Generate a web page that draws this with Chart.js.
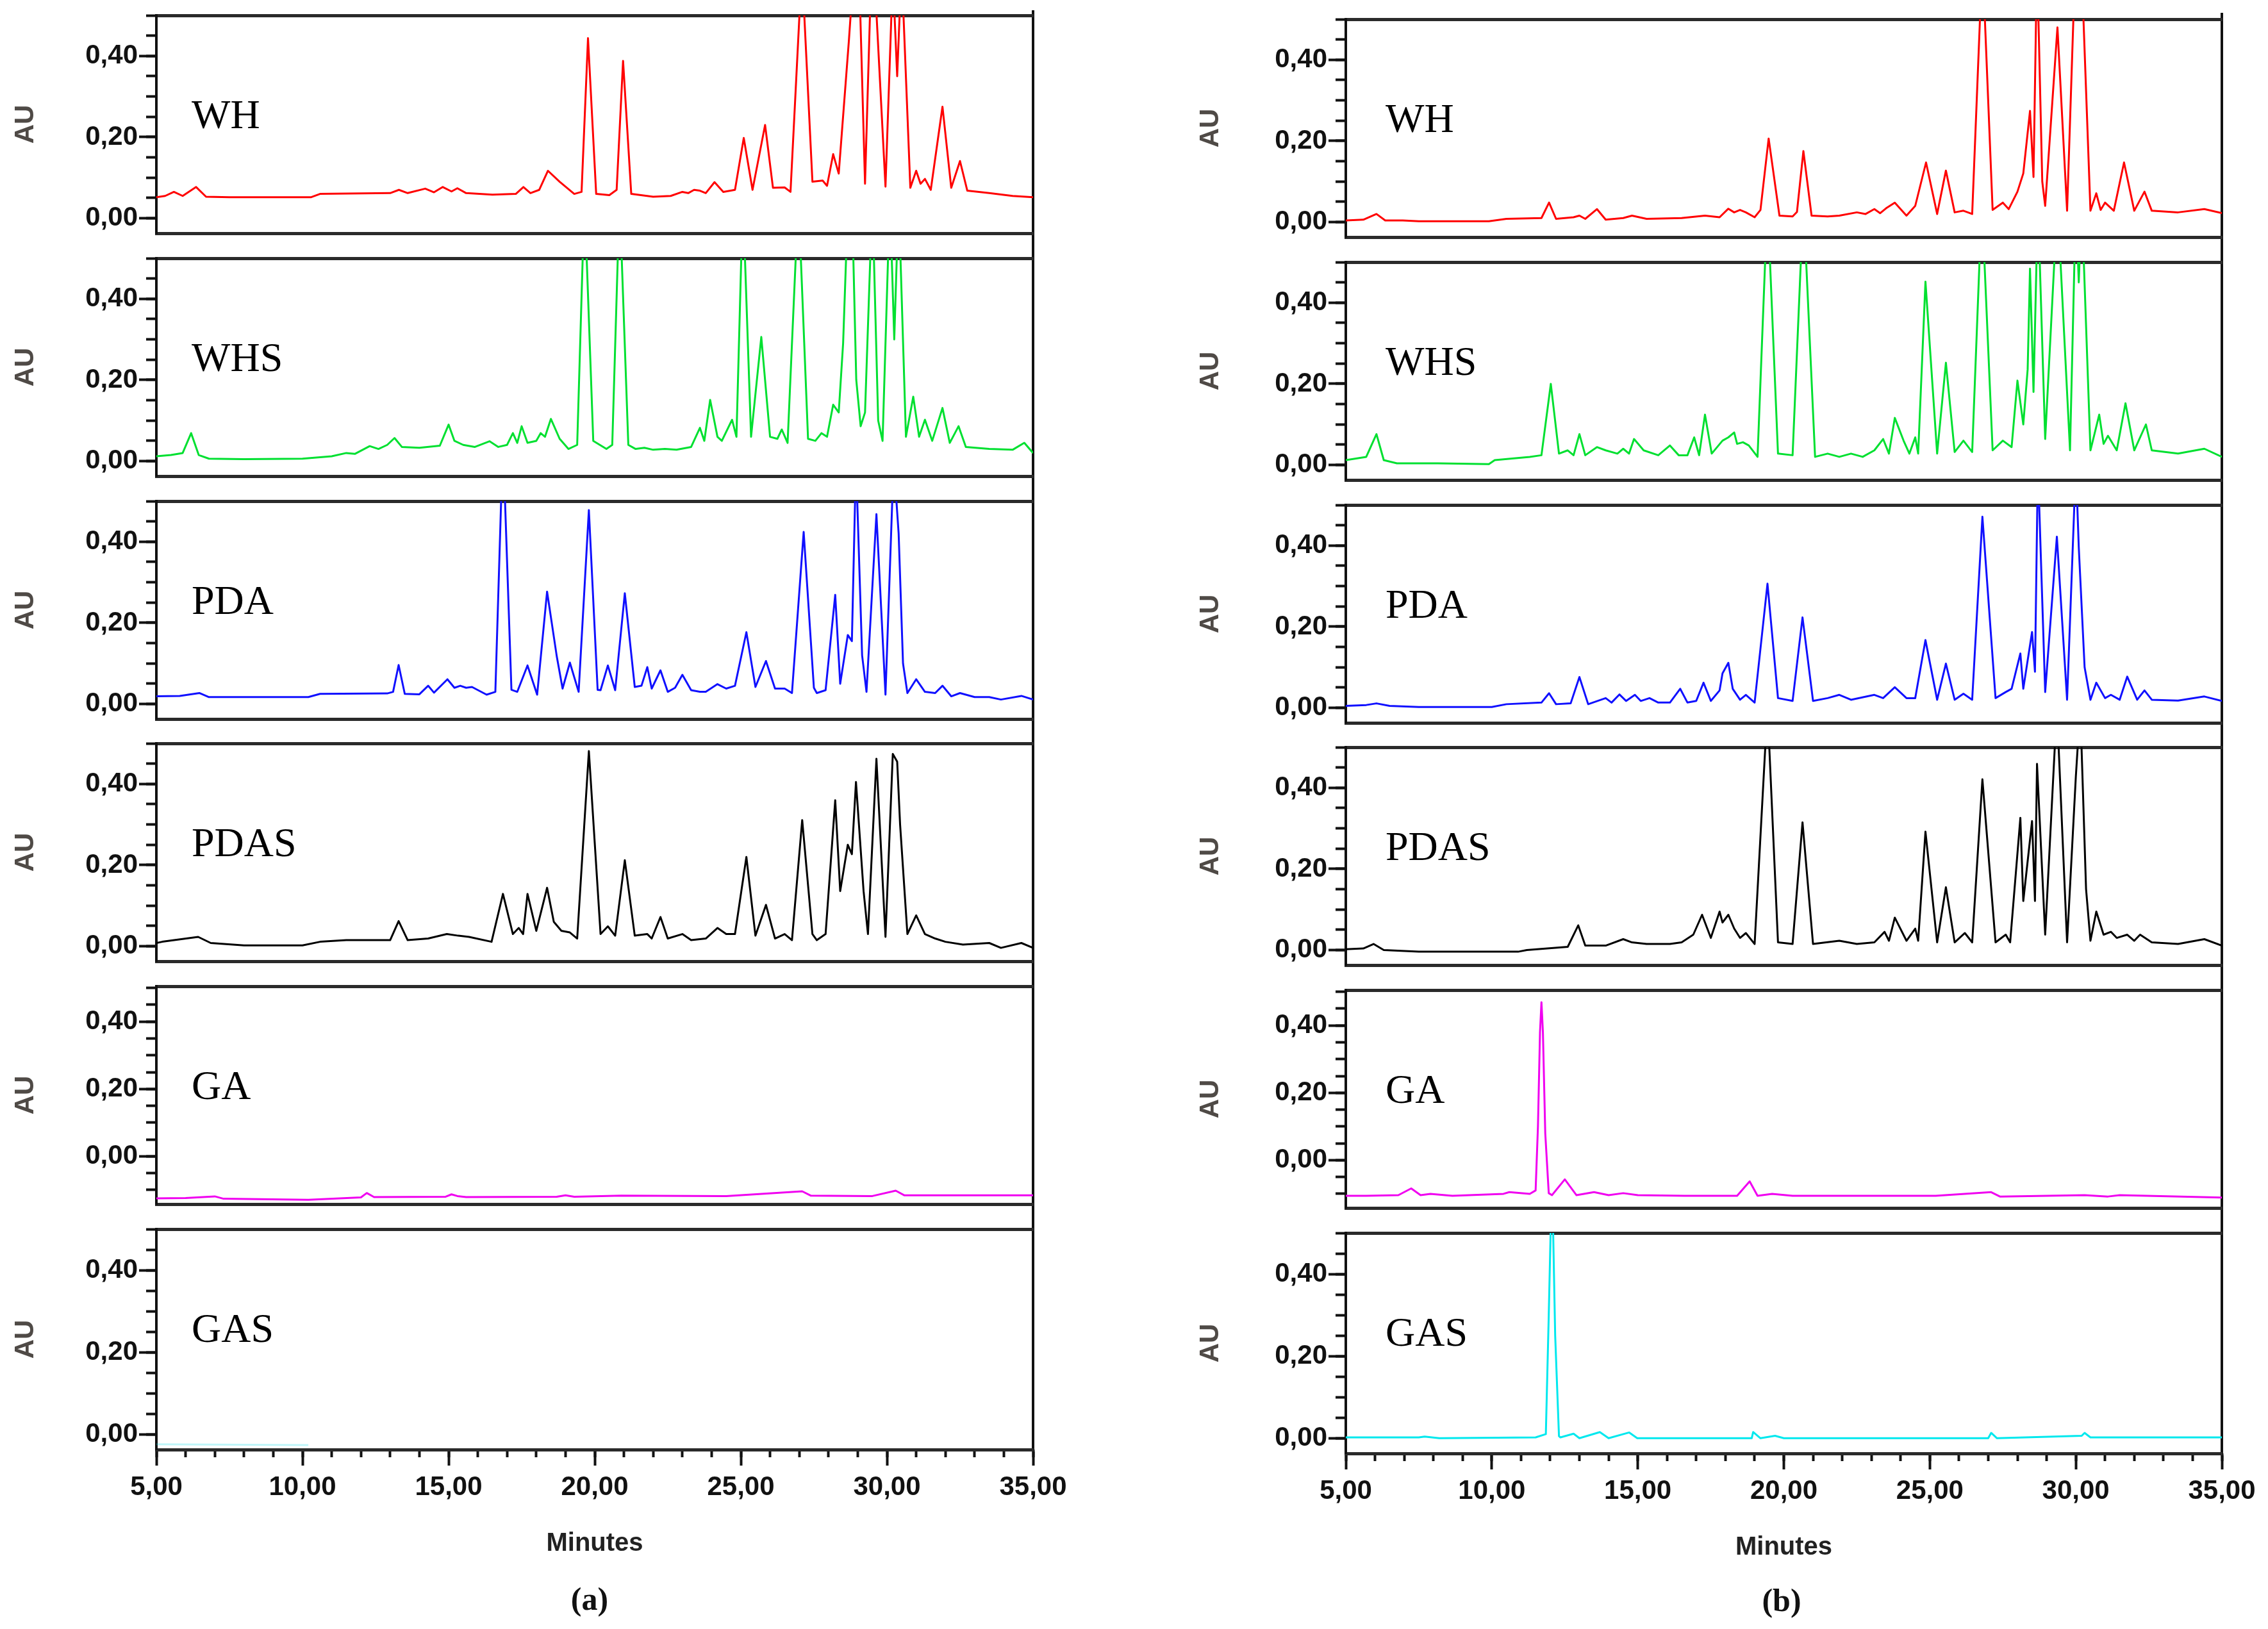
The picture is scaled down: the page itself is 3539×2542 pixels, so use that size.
<!DOCTYPE html>
<html>
<head>
<meta charset="utf-8">
<script src="https://cdn.jsdelivr.net/npm/chart.js@4.4.1/dist/chart.umd.min.js"></script>
<style>
  body { margin: 0; background: #fff; width: 3539px; height: 2542px; position: relative; overflow: hidden; }
  canvas { position: absolute; }
  .frame { position: absolute; width: 4px; background: #111; }
  .cap { position: absolute; font: bold 50px "Liberation Serif", serif; color: #111; transform: translate(-50%, -50%); line-height: 1; }
</style>
</head>
<body>
<div class="frame" style="left:1610px; top:16px; height:2248px;"></div>
<div class="frame" style="left:3465px; top:20px; height:2250px;"></div>
<div class="cap" style="left:920px; top:2495px;">(a)</div>
<div class="cap" style="left:2780px; top:2497px;">(b)</div>
<script>
// chromatograms, [minutes, AU]
const WH_a = [[5.0,0.052],[5.3,0.055],[5.6,0.065],[5.9,0.055],[6.36,0.077],[6.7,0.053],[7.5,0.052],[10.3,0.052],[10.6,0.06],[13.0,0.062],[13.3,0.07],[13.6,0.062],[14.2,0.073],[14.5,0.064],[14.8,0.077],[15.1,0.066],[15.3,0.074],[15.6,0.062],[16.5,0.058],[17.3,0.06],[17.56,0.077],[17.8,0.062],[18.1,0.07],[18.4,0.117],[18.8,0.09],[19.3,0.06],[19.55,0.065],[19.77,0.444],[20.05,0.06],[20.5,0.057],[20.75,0.07],[20.97,0.388],[21.25,0.06],[22.0,0.053],[22.6,0.055],[23.0,0.065],[23.2,0.062],[23.4,0.07],[23.6,0.068],[23.8,0.062],[24.1,0.089],[24.4,0.065],[24.8,0.07],[25.1,0.198],[25.4,0.07],[25.83,0.23],[26.1,0.075],[26.5,0.076],[26.7,0.065],[27.09,0.62],[27.45,0.09],[27.8,0.093],[27.95,0.08],[28.16,0.158],[28.35,0.11],[28.7,0.44],[28.9,0.65],[29.05,0.6],[29.25,0.085],[29.5,0.7],[29.95,0.078],[30.2,0.6],[30.35,0.35],[30.5,0.62],[30.8,0.075],[31.0,0.117],[31.15,0.085],[31.3,0.097],[31.5,0.07],[31.9,0.275],[32.2,0.075],[32.5,0.141],[32.75,0.068],[33.5,0.062],[34.3,0.055],[35.0,0.052]];
const WHS_a = [[5.0,0.012],[5.5,0.015],[5.9,0.02],[6.19,0.069],[6.45,0.015],[6.8,0.006],[8.0,0.005],[10.0,0.006],[11.0,0.012],[11.5,0.02],[11.8,0.018],[12.3,0.037],[12.6,0.03],[12.9,0.04],[13.15,0.057],[13.4,0.035],[14.0,0.033],[14.7,0.038],[15.0,0.09],[15.2,0.05],[15.5,0.04],[15.9,0.035],[16.4,0.049],[16.7,0.035],[17.0,0.04],[17.2,0.069],[17.35,0.045],[17.5,0.086],[17.7,0.045],[18.0,0.05],[18.15,0.069],[18.3,0.06],[18.5,0.104],[18.8,0.055],[19.1,0.03],[19.4,0.04],[19.65,0.65],[19.95,0.05],[20.4,0.03],[20.6,0.04],[20.85,0.65],[21.15,0.04],[21.4,0.03],[21.7,0.033],[22.0,0.028],[22.4,0.03],[22.8,0.028],[23.3,0.035],[23.6,0.082],[23.75,0.05],[23.95,0.151],[24.2,0.06],[24.35,0.05],[24.7,0.102],[24.85,0.06],[25.07,0.65],[25.35,0.06],[25.7,0.306],[26.0,0.06],[26.25,0.055],[26.4,0.078],[26.6,0.045],[26.97,0.65],[27.3,0.055],[27.55,0.05],[27.76,0.069],[27.95,0.06],[28.16,0.139],[28.35,0.12],[28.5,0.29],[28.65,0.6],[28.8,0.65],[28.95,0.2],[29.1,0.086],[29.25,0.12],[29.5,0.65],[29.7,0.1],[29.85,0.05],[30.1,0.65],[30.25,0.3],[30.4,0.65],[30.65,0.06],[30.9,0.159],[31.1,0.06],[31.3,0.102],[31.55,0.05],[31.9,0.131],[32.15,0.045],[32.45,0.086],[32.7,0.035],[33.5,0.03],[34.3,0.028],[34.7,0.045],[35.0,0.02]];
const PDA_a = [[5.0,0.019],[5.8,0.02],[6.47,0.027],[6.8,0.017],[10.2,0.017],[10.6,0.025],[12.9,0.026],[13.1,0.03],[13.29,0.096],[13.5,0.025],[14.0,0.024],[14.3,0.045],[14.5,0.028],[14.96,0.061],[15.2,0.04],[15.4,0.045],[15.6,0.04],[15.8,0.042],[16.3,0.023],[16.6,0.03],[16.86,0.65],[17.15,0.035],[17.35,0.03],[17.7,0.095],[18.03,0.023],[18.37,0.277],[18.7,0.118],[18.9,0.038],[19.15,0.102],[19.45,0.03],[19.8,0.478],[20.1,0.035],[20.2,0.034],[20.45,0.095],[20.7,0.034],[21.03,0.273],[21.37,0.042],[21.6,0.045],[21.8,0.091],[21.95,0.038],[22.25,0.083],[22.5,0.03],[22.75,0.04],[23.0,0.072],[23.3,0.034],[23.6,0.03],[23.8,0.03],[24.2,0.049],[24.5,0.038],[24.8,0.045],[25.19,0.177],[25.5,0.042],[25.86,0.106],[26.17,0.038],[26.5,0.038],[26.75,0.027],[27.15,0.424],[27.5,0.04],[27.6,0.027],[27.9,0.034],[28.23,0.269],[28.4,0.05],[28.66,0.17],[28.8,0.155],[28.94,0.6],[29.15,0.12],[29.3,0.03],[29.64,0.468],[29.95,0.023],[30.23,0.6],[30.4,0.42],[30.55,0.1],[30.7,0.027],[31.0,0.061],[31.3,0.03],[31.65,0.027],[31.9,0.045],[32.2,0.019],[32.5,0.027],[33.0,0.017],[33.5,0.017],[33.9,0.011],[34.6,0.02],[35.0,0.011]];
const PDAS_a = [[5.0,0.008],[5.2,0.011],[6.43,0.023],[6.86,0.008],[8.0,0.002],[10.0,0.002],[10.6,0.011],[11.5,0.015],[13.0,0.015],[13.29,0.062],[13.6,0.015],[14.3,0.019],[14.94,0.03],[15.33,0.026],[15.7,0.023],[16.47,0.011],[16.86,0.129],[17.2,0.03],[17.4,0.045],[17.55,0.03],[17.7,0.129],[18.0,0.038],[18.37,0.144],[18.6,0.06],[18.86,0.038],[19.15,0.034],[19.4,0.019],[19.8,0.481],[20.2,0.03],[20.45,0.049],[20.7,0.026],[21.03,0.212],[21.37,0.026],[21.8,0.03],[21.95,0.019],[22.25,0.072],[22.5,0.019],[23.0,0.03],[23.3,0.015],[23.8,0.019],[24.2,0.045],[24.5,0.03],[24.8,0.03],[25.19,0.22],[25.5,0.026],[25.86,0.102],[26.17,0.019],[26.5,0.03],[26.75,0.015],[27.1,0.311],[27.45,0.03],[27.6,0.015],[27.9,0.03],[28.23,0.36],[28.4,0.136],[28.66,0.25],[28.8,0.227],[28.94,0.405],[29.2,0.136],[29.35,0.03],[29.64,0.462],[29.95,0.023],[30.2,0.474],[30.35,0.455],[30.45,0.3],[30.7,0.03],[31.0,0.076],[31.3,0.03],[31.65,0.019],[32.0,0.011],[32.6,0.004],[33.5,0.008],[33.9,-0.004],[34.6,0.008],[35.0,-0.004]];
const GA_a = [[5.0,-0.125],[6.0,-0.124],[7.0,-0.119],[7.3,-0.126],[10.2,-0.129],[12.0,-0.122],[12.2,-0.109],[12.45,-0.121],[14.9,-0.12],[15.1,-0.113],[15.3,-0.118],[15.6,-0.121],[18.7,-0.12],[19.0,-0.116],[19.3,-0.12],[20.9,-0.117],[24.5,-0.118],[27.1,-0.104],[27.4,-0.117],[29.5,-0.118],[30.3,-0.102],[30.6,-0.116],[35.0,-0.116]];
const GAS_a = [[5.0,-0.024],[10.2,-0.026]];

const WH_b = [[5.0,0.004],[5.6,0.006],[6.05,0.02],[6.35,0.004],[6.95,0.004],[7.5,0.002],[9.9,0.002],[10.5,0.008],[11.7,0.01],[11.96,0.048],[12.2,0.008],[12.8,0.012],[13.0,0.016],[13.2,0.008],[13.6,0.032],[13.9,0.006],[14.5,0.01],[14.8,0.016],[15.3,0.008],[16.5,0.01],[17.3,0.016],[17.8,0.012],[18.1,0.033],[18.3,0.024],[18.5,0.03],[18.7,0.024],[19.0,0.012],[19.2,0.03],[19.48,0.206],[19.85,0.016],[20.3,0.014],[20.45,0.025],[20.67,0.175],[20.95,0.016],[21.5,0.014],[21.9,0.016],[22.5,0.024],[22.8,0.02],[23.1,0.032],[23.3,0.022],[23.5,0.034],[23.8,0.048],[24.2,0.016],[24.5,0.04],[24.87,0.147],[25.25,0.02],[25.55,0.127],[25.85,0.024],[26.15,0.028],[26.45,0.02],[26.8,0.65],[27.15,0.03],[27.5,0.048],[27.7,0.032],[28.0,0.075],[28.2,0.12],[28.43,0.274],[28.55,0.111],[28.67,0.65],[28.85,0.1],[28.95,0.04],[29.37,0.48],[29.7,0.028],[29.97,0.62],[30.1,0.55],[30.2,0.62],[30.5,0.028],[30.7,0.071],[30.85,0.03],[31.0,0.048],[31.3,0.028],[31.65,0.147],[32.0,0.028],[32.35,0.075],[32.6,0.028],[33.5,0.024],[34.4,0.032],[35.0,0.022]];
const WHS_b = [[5.0,0.012],[5.7,0.02],[6.05,0.076],[6.3,0.012],[6.75,0.004],[8.15,0.004],[9.9,0.002],[10.1,0.012],[11.3,0.02],[11.7,0.024],[12.02,0.2],[12.3,0.028],[12.6,0.036],[12.8,0.024],[13.0,0.076],[13.2,0.024],[13.6,0.044],[13.9,0.036],[14.3,0.028],[14.5,0.04],[14.7,0.028],[14.87,0.064],[15.2,0.036],[15.7,0.024],[16.1,0.048],[16.4,0.024],[16.7,0.024],[16.93,0.068],[17.1,0.024],[17.3,0.124],[17.53,0.028],[17.9,0.06],[18.1,0.068],[18.3,0.08],[18.4,0.052],[18.6,0.056],[18.8,0.048],[19.1,0.02],[19.44,0.65],[19.8,0.028],[20.3,0.024],[20.67,0.65],[21.07,0.02],[21.5,0.028],[21.9,0.02],[22.3,0.028],[22.7,0.02],[23.1,0.036],[23.4,0.064],[23.6,0.028],[23.8,0.116],[24.1,0.06],[24.3,0.028],[24.5,0.068],[24.6,0.028],[24.85,0.452],[25.25,0.028],[25.55,0.252],[25.85,0.032],[26.15,0.06],[26.45,0.032],[26.78,0.65],[27.15,0.036],[27.5,0.06],[27.8,0.044],[28.0,0.208],[28.2,0.1],[28.35,0.236],[28.43,0.484],[28.55,0.18],[28.7,0.65],[28.95,0.064],[29.37,0.65],[29.8,0.036],[30.0,0.65],[30.1,0.45],[30.2,0.65],[30.5,0.036],[30.8,0.124],[30.95,0.052],[31.1,0.072],[31.4,0.036],[31.7,0.152],[32.0,0.036],[32.4,0.1],[32.6,0.036],[33.5,0.028],[34.4,0.04],[35.0,0.02]];
const PDA_b = [[5.0,0.005],[5.7,0.007],[6.05,0.011],[6.5,0.005],[7.5,0.002],[10.0,0.002],[10.5,0.009],[11.7,0.013],[11.96,0.036],[12.2,0.009],[12.7,0.011],[13.0,0.076],[13.3,0.009],[13.9,0.024],[14.1,0.013],[14.37,0.033],[14.6,0.017],[14.9,0.032],[15.1,0.017],[15.4,0.024],[15.7,0.013],[16.1,0.013],[16.45,0.047],[16.7,0.013],[17.0,0.017],[17.25,0.062],[17.5,0.017],[17.8,0.043],[17.9,0.085],[18.1,0.111],[18.25,0.047],[18.5,0.02],[18.7,0.032],[19.0,0.013],[19.44,0.306],[19.8,0.024],[20.3,0.017],[20.64,0.223],[21.0,0.017],[21.5,0.024],[21.9,0.032],[22.3,0.02],[23.1,0.032],[23.4,0.024],[23.8,0.051],[24.2,0.024],[24.5,0.024],[24.85,0.167],[25.25,0.02],[25.55,0.109],[25.85,0.02],[26.15,0.035],[26.45,0.02],[26.8,0.471],[27.25,0.024],[27.6,0.039],[27.8,0.047],[28.1,0.134],[28.2,0.047],[28.5,0.187],[28.6,0.089],[28.7,0.6],[28.95,0.039],[29.35,0.422],[29.7,0.02],[30.0,0.6],[30.1,0.396],[30.3,0.1],[30.5,0.02],[30.7,0.062],[31.0,0.024],[31.2,0.032],[31.5,0.02],[31.76,0.077],[32.1,0.02],[32.35,0.043],[32.6,0.02],[33.5,0.018],[34.4,0.028],[35.0,0.017]];
const PDAS_b = [[5.0,0.002],[5.6,0.004],[5.95,0.015],[6.3,0.0],[7.5,-0.004],[10.9,-0.004],[11.2,0.0],[12.6,0.008],[12.96,0.061],[13.2,0.011],[13.9,0.011],[14.5,0.027],[14.8,0.019],[15.3,0.015],[16.1,0.015],[16.5,0.019],[16.9,0.038],[17.2,0.087],[17.5,0.03],[17.8,0.095],[17.9,0.068],[18.1,0.087],[18.3,0.053],[18.5,0.03],[18.7,0.042],[19.0,0.015],[19.44,0.6],[19.8,0.019],[20.3,0.015],[20.64,0.315],[21.0,0.015],[21.9,0.023],[22.5,0.015],[23.1,0.019],[23.45,0.045],[23.6,0.023],[23.8,0.08],[24.2,0.023],[24.5,0.053],[24.6,0.023],[24.85,0.292],[25.25,0.019],[25.55,0.155],[25.85,0.019],[26.2,0.042],[26.45,0.019],[26.8,0.421],[27.25,0.019],[27.6,0.038],[27.75,0.019],[28.1,0.326],[28.2,0.121],[28.5,0.318],[28.6,0.121],[28.67,0.459],[28.95,0.038],[29.35,0.6],[29.7,0.019],[30.0,0.428],[30.15,0.6],[30.35,0.15],[30.5,0.023],[30.7,0.095],[30.95,0.038],[31.2,0.045],[31.4,0.03],[31.76,0.038],[32.0,0.023],[32.2,0.038],[32.6,0.019],[33.5,0.015],[34.4,0.027],[35.0,0.011]];
const GA_b = [[5.0,-0.106],[5.7,-0.106],[6.8,-0.104],[7.24,-0.084],[7.56,-0.104],[7.9,-0.1],[8.65,-0.106],[10.4,-0.1],[10.6,-0.095],[11.3,-0.1],[11.5,-0.09],[11.58,0.1],[11.65,0.38],[11.7,0.469],[11.75,0.38],[11.83,0.08],[11.95,-0.098],[12.06,-0.104],[12.5,-0.057],[12.9,-0.104],[13.5,-0.095],[14.0,-0.104],[14.5,-0.098],[15.0,-0.104],[16.6,-0.106],[18.4,-0.106],[18.83,-0.063],[19.1,-0.106],[19.6,-0.1],[20.3,-0.106],[22.8,-0.106],[25.2,-0.106],[27.1,-0.095],[27.4,-0.108],[30.3,-0.104],[31.1,-0.108],[31.5,-0.104],[35.0,-0.111]];
const GAS_b = [[5.0,0.002],[7.5,0.002],[7.7,0.004],[8.2,0.0],[11.5,0.002],[11.85,0.01],[11.95,0.3],[12.06,0.65],[12.17,0.25],[12.3,0.005],[12.35,0.002],[12.8,0.011],[13.0,0.0],[13.7,0.015],[14.0,0.0],[14.7,0.014],[14.98,0.0],[18.9,0.0],[18.95,0.015],[19.2,0.0],[19.7,0.006],[20.0,0.0],[27.0,0.0],[27.1,0.013],[27.3,0.0],[30.2,0.006],[30.3,0.013],[30.5,0.002],[35.0,0.002]];

const panelNames = ['WH', 'WHS', 'PDA', 'PDAS', 'GA', 'GAS'];
const lineColors = ['#ff0000', '#00e030', '#1010ff', '#000000', '#f000f0', '#00e8ee'];
const seriesA = [WH_a, WHS_a, PDA_a, PDAS_a, GA_a, GAS_a];
const seriesB = [WH_b, WHS_b, PDA_b, PDAS_b, GA_b, GAS_b];
const yMins = [-0.037, -0.037, -0.037, -0.037, -0.142, -0.037];
const yMaxs = [0.5, 0.5, 0.5, 0.5, 0.505, 0.5];
const xTickValues = [5, 10, 15, 20, 25, 30, 35];
const xTickLabels = ['5,00', '10,00', '15,00', '20,00', '25,00', '30,00', '35,00'];
const yTickValues = [0, 0.2, 0.4];
const yTickLabels = ['0,00', '0,20', '0,40'];

Chart.defaults.font.family = '"Liberation Sans", Arial, sans-serif';

const pickLabel = (vals, labels, v) => {
  const k = vals.findIndex(t => Math.abs(t - v) < 1e-9);
  return k >= 0 ? labels[k] : '';
};

// panel name drawn inside the plot
const panelLabel = {
  id: 'panelLabel',
  afterDatasetsDraw(chart, args, opts) {
    const { ctx, chartArea } = chart;
    ctx.save();
    ctx.font = '64px "Liberation Serif", serif';
    ctx.fillStyle = '#000';
    ctx.textBaseline = 'alphabetic';
    ctx.fillText(opts.text, chartArea.left + opts.dx, chartArea.top + 176);
    ctx.restore();
  }
};

const colA = { left: 0, width: 1700, axisW: 244, plotRight: 1612, top0: 24, titlePad: 15, labelDx: 55 };
const colB = { left: 1760, width: 1779, axisW: 340, plotRight: 3467, top0: 30, titlePad: 104, labelDx: 62 };
const PANEL_H = 340, LAST_H = 344, PITCH = 378.8, PAD = 16, XAXIS_H = 171;

function makePanel(col, i, points) {
  const isLast = i === panelNames.length - 1;
  const top = Math.round(col.top0 + i * PITCH);
  const h = isLast ? LAST_H : PANEL_H;
  const c = document.createElement('canvas');
  c.width = col.width;
  c.height = PAD + h + (isLast ? XAXIS_H + 8 : PAD);
  c.style.left = col.left + 'px';
  c.style.top = (top - PAD) + 'px';
  document.body.appendChild(c);

  const zeroPad = s => { s.paddingLeft = 0; s.paddingRight = 0; s.paddingTop = 0; s.paddingBottom = 0; };
  const lim = { min: yMins[i], max: yMaxs[i] };

  new Chart(c, {
    type: 'line',
    data: {
      datasets: [{
        data: points.map(p => ({ x: p[0], y: p[1] })),
        xAxisID: 'x', yAxisID: 'y',
        borderColor: points === GAS_a ? 'rgba(0,220,230,0.25)' : lineColors[i],
        borderWidth: 3, pointRadius: 0, fill: false, tension: 0,
        borderJoinStyle: 'round'
      }]
    },
    options: {
      responsive: false, animation: false, devicePixelRatio: 1,
      layout: { padding: { left: 0, right: col.left + col.width - col.plotRight, top: PAD, bottom: isLast ? 8 : PAD } },
      plugins: { legend: { display: false }, tooltip: { enabled: false }, panelLabel: { text: panelNames[i], dx: col.labelDx } },
      scales: {
        xMinor: {
          type: 'linear', axis: 'x', position: 'bottom', weight: 0, min: 5, max: 35, display: isLast,
          ticks: { stepSize: 1, display: false },
          grid: { drawOnChartArea: false, tickLength: 12, tickWidth: 4, tickColor: '#111' },
          border: { display: false },
          afterFit: s => { s.height = 0; zeroPad(s); }
        },
        x: {
          type: 'linear', axis: 'x', position: 'bottom', weight: 1, min: 5, max: 35,
          ticks: {
            display: isLast, stepSize: 5, autoSkip: false, maxRotation: 0, padding: 9,
            color: '#111', font: { size: 42, weight: 'bold' },
            callback: v => pickLabel(xTickValues, xTickLabels, v)
          },
          grid: { drawOnChartArea: false, drawTicks: isLast, tickLength: 25, tickWidth: 4, tickColor: '#111' },
          border: { display: true, width: 5, color: '#2a2a2a' },
          title: { display: isLast, text: 'Minutes', color: '#222', font: { size: 40, weight: 'bold' }, padding: { top: 0, bottom: 0 } },
          afterFit: s => { s.height = isLast ? XAXIS_H : 0; zeroPad(s); }
        },
        xTop: {
          type: 'linear', axis: 'x', position: 'top', min: 5, max: 35,
          ticks: { display: false },
          grid: { drawOnChartArea: false, drawTicks: false },
          border: { display: true, width: 5, color: '#2a2a2a' },
          afterFit: s => { s.height = 0; zeroPad(s); }
        },
        yMinor: {
          type: 'linear', axis: 'y', position: 'left', weight: 0, ...lim,
          ticks: { stepSize: 0.05, display: false, includeBounds: false },
          grid: { drawOnChartArea: false, tickLength: 16, tickWidth: 4, tickColor: '#111' },
          border: { display: false },
          afterFit: s => { s.width = 0; zeroPad(s); }
        },
        y: {
          type: 'linear', axis: 'y', position: 'left', weight: 1, ...lim,
          ticks: {
            stepSize: 0.2, includeBounds: false, padding: 2,
            color: '#111', font: { size: 42, weight: 'bold' },
            callback: v => pickLabel(yTickValues, yTickLabels, v)
          },
          grid: { drawOnChartArea: false, tickLength: 27, tickWidth: 4, tickColor: '#111' },
          border: { display: true, width: 4, color: '#111' },
          title: { display: true, text: 'AU', color: '#4f4a46', font: { size: 42, weight: 'bold' }, padding: { top: col.titlePad, bottom: 0 } },
          afterFit: s => { s.width = col.axisW; zeroPad(s); }
        }
      }
    },
    plugins: [panelLabel]
  });
}

seriesA.forEach((pts, i) => makePanel(colA, i, pts));
seriesB.forEach((pts, i) => makePanel(colB, i, pts));
</script>
</body>
</html>
